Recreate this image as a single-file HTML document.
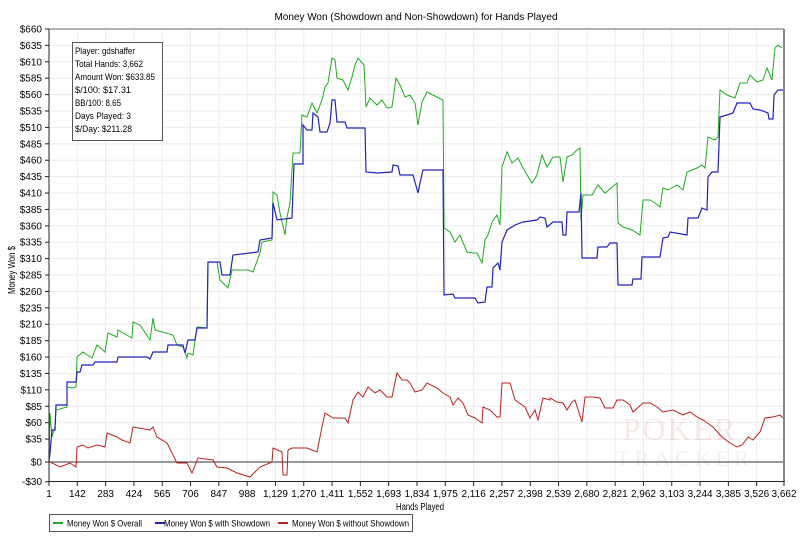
<!DOCTYPE html>
<html><head><meta charset="utf-8"><style>
html,body{margin:0;padding:0;background:#fff;}
svg{display:block;font-family:"Liberation Sans","DejaVu Sans",sans-serif;}
</style></head><body>
<svg width="800" height="543" viewBox="0 0 800 543" xmlns="http://www.w3.org/2000/svg">
<rect width="800" height="543" fill="#fff"/>
<text x="416" y="20" font-size="10" text-anchor="middle" fill="#000" textLength="283" lengthAdjust="spacingAndGlyphs">Money Won (Showdown and Non-Showdown) for Hands Played</text>
<g id="grid" stroke="#ececec" stroke-width="1"></g>
<g id="ylab" font-size="10" fill="#000" text-anchor="end"></g>
<g id="xlab" font-size="10" fill="#000" text-anchor="middle"></g>
<g font-family="Liberation Serif,serif" opacity="0.08">
<text x="680" y="440" font-size="32" text-anchor="middle" fill="#c00000" letter-spacing="2">POKER</text>
<text x="685" y="466" font-size="22" text-anchor="middle" fill="#2a6a2a" letter-spacing="5">TRACKER</text>
</g>
<line x1="49" y1="462" x2="784" y2="462" stroke="#333" stroke-width="1"/>
<polyline fill="none" stroke="#22aa22" stroke-width="1" points="49,461 50,413 52,437 55,427 56,410 67,407 67,387 72,388 76,387 77,357 83,352 92,358 97,345 105,352 108,333 117,337 118,330 132,338 133,322 140,325 150,340 153,318 155,330 173,335 177,345 183,347 187,358 188,353 193,355 197,327 207,328 208,262 217,262 220,280 228,288 232,270 248,270 253,272 260,253 262,242 272,240 273,192 277,195 280,213 285,235 287,217 290,203 293,153 300,153 302,115 307,117 312,103 317,113 322,100 325,87 328,83 332,58 335,60 337,78 343,80 348,90 352,77 355,65 358,58 364,65 366,107 370,98 377,105 382,100 387,108 392,107 396,78 400,85 405,97 410,95 415,103 418,125 422,102 427,92 437,97 443,100 444,228 450,232 455,242 460,235 467,252 472,253 477,253 482,263 485,240 488,235 492,222 497,215 500,225 502,167 507,152 512,163 518,158 523,168 532,183 537,175 542,155 547,167 553,157 560,157 563,182 567,157 572,155 577,150 580,148 581,220 583,195 592,195 598,185 605,193 617,183 618,223 623,227 632,230 640,235 643,200 650,200 655,203 660,207 663,188 668,190 677,185 683,190 687,172 697,168 702,165 705,168 708,137 715,140 718,137 720,90 727,95 735,98 740,83 747,83 750,75 757,82 763,80 767,68 772,80 775,48 778,45 782,48"/>
<polyline fill="none" stroke="#2222bb" stroke-width="1.2" points="49,461 50,453 52,430 55,430 56,405 67,405 67,382 76,382 77,372 80,372 82,365 93,365 95,362 117,362 118,357 147,357 150,359 153,352 167,352 168,345 183,345 185,353 188,340 195,340 197,328 207,328 208,262 220,262 222,275 230,275 233,255 258,252 260,240 272,238 273,203 277,220 292,218 294,164 303,164 303,125 307,130 312,130 313,113 318,117 320,132 327,132 330,123 332,100 335,100 337,122 345,122 347,128 365,128 366,172 378,173 392,172 393,165 398,166 400,175 413,175 418,193 420,183 423,170 443,170 444,295 453,294 455,298 475,298 478,303 485,302 487,287 492,287 493,268 498,263 500,270 502,242 507,230 515,225 523,222 537,220 540,217 545,218 547,227 553,222 562,222 563,235 566,235 567,212 579,212 581,193 582,258 597,258 598,247 607,247 610,243 617,243 618,285 632,285 633,279 641,279 642,257 660,257 663,238 668,237 670,232 687,235 688,218 698,218 702,208 707,210 708,177 712,172 718,172 720,117 727,115 733,113 737,103 750,103 753,109 760,110 768,113 769,119 773,119 774,95 778,90 783,90"/>
<polyline fill="none" stroke="#bb2222" stroke-width="1" points="49,461 50,462 60,467 70,463 76,467 77,447 83,445 88,448 97,445 105,447 107,433 117,437 122,440 130,443 133,427 150,430 153,427 157,437 167,443 177,463 187,463 192,473 198,458 213,460 217,467 227,468 237,473 250,477 260,467 272,462 273,448 282,452 283,475 287,475 288,450 292,448 297,448 307,448 317,452 322,427 325,413 333,418 345,418 348,423 353,400 358,392 363,397 368,387 375,393 380,390 387,397 392,397 397,373 402,380 407,380 410,383 415,392 422,390 427,383 437,388 443,393 450,397 453,405 458,398 463,403 468,415 475,418 482,423 483,407 490,410 497,417 500,417 502,383 510,383 515,400 525,407 530,418 535,410 538,420 543,398 550,400 550,398 557,402 563,403 567,410 572,402 575,400 582,422 585,397 593,397 600,398 605,408 613,408 617,400 623,400 630,405 633,412 643,403 650,403 657,407 663,412 673,410 683,415 690,412 697,417 703,420 713,427 722,437 730,443 737,447 742,445 748,437 753,440 760,432 765,418 773,417 780,415 783,418"/>
<line x1="49" y1="29" x2="784" y2="29" stroke="#666" stroke-width="1"/>
<line x1="784" y1="29" x2="784" y2="482" stroke="#888" stroke-width="2"/>
<line x1="49" y1="29" x2="49" y2="482" stroke="#222" stroke-width="1"/>
<line x1="49" y1="481.5" x2="784" y2="481.5" stroke="#222" stroke-width="1"/>
<g id="ticks" stroke="#222" stroke-width="1"></g>
<rect x="72.5" y="42.5" width="90" height="98" fill="#fff" stroke="#555" stroke-width="1"/>
<g font-size="9.5" fill="#000" lengthAdjust="spacingAndGlyphs">
<text x="75" y="54" textLength="60" lengthAdjust="spacingAndGlyphs">Player: gdshaffer</text>
<text x="75" y="67" textLength="68" lengthAdjust="spacingAndGlyphs">Total Hands: 3,662</text>
<text x="75" y="80" textLength="80" lengthAdjust="spacingAndGlyphs">Amount Won: $633.85</text>
<text x="75" y="93" textLength="56" lengthAdjust="spacingAndGlyphs">$/100: $17.31</text>
<text x="75" y="106" textLength="46" lengthAdjust="spacingAndGlyphs">BB/100: 8.65</text>
<text x="75" y="119" textLength="56" lengthAdjust="spacingAndGlyphs">Days Played: 3</text>
<text x="75" y="132" textLength="57" lengthAdjust="spacingAndGlyphs">$/Day: $211.28</text>
</g>
<text x="420" y="510" font-size="10" text-anchor="middle" textLength="48" lengthAdjust="spacingAndGlyphs">Hands Played</text>
<text transform="translate(15,270) rotate(-90)" font-size="10" text-anchor="middle" textLength="48" lengthAdjust="spacingAndGlyphs">Money Won $</text>
<rect x="49.5" y="514.5" width="363" height="17" fill="#fff" stroke="#555" stroke-width="1"/>
<g font-size="9.5">
<line x1="53" y1="523" x2="63" y2="523" stroke="#22aa22" stroke-width="2"/><text x="67" y="526.5" textLength="75" lengthAdjust="spacingAndGlyphs">Money Won $ Overall</text>
<line x1="155" y1="523" x2="165" y2="523" stroke="#2222bb" stroke-width="2"/><text x="164" y="526.5" textLength="106" lengthAdjust="spacingAndGlyphs" dx="0">Money Won $ with Showdown</text>
<line x1="278" y1="523" x2="288" y2="523" stroke="#bb2222" stroke-width="2"/><text x="292" y="526.5" textLength="117" lengthAdjust="spacingAndGlyphs">Money Won $ without Showdown</text>
</g>
<script>
(function(){
var ns="http://www.w3.org/2000/svg";
function el(t,a,p){var e=document.createElementNS(ns,t);for(var k in a)e.setAttribute(k,a[k]);document.getElementById(p).appendChild(e);return e;}
function Y(v){return 29+(660-v)*0.6561;}
function X(h){return 49+(h-1)*735/3661;}
for(var v=660;v>=35;v-=25){var y=Y(v);el("line",{x1:49,x2:784,y1:y,y2:y},"grid");el("line",{x1:45,x2:49,y1:y,y2:y},"ticks");var t=el("text",{x:42,y:y+3.5},"ylab");t.textContent="$"+v;}
[[0,"$0"],[-30,"-$30"]].forEach(function(a){var y=Y(a[0]);el("line",{x1:45,x2:49,y1:y,y2:y},"ticks");var t=el("text",{x:42,y:y+3.5},"ylab");t.textContent=a[1];});
var hs=[];for(var h=1;h<=3526;h+=141)hs.push(h);hs.push(3662);
hs.forEach(function(h){var x=X(h);if(h>1&&h<3662)el("line",{x1:x,x2:x,y1:29,y2:481},"grid");el("line",{x1:x,x2:x,y1:481,y2:486},"ticks");var t=el("text",{x:x,y:497},"xlab");t.textContent=h.toLocaleString("en-US");});
})();
</script>
</svg>
</body></html>
